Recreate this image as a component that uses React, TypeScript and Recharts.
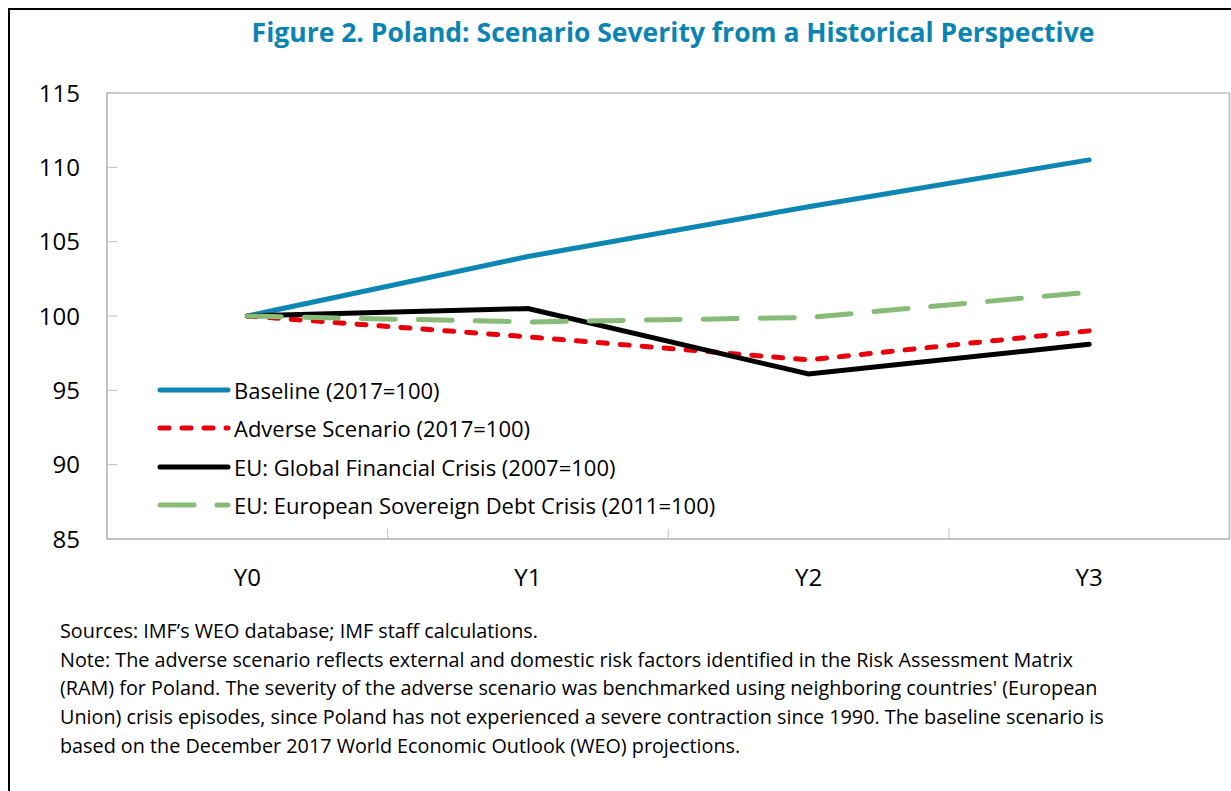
import React from 'react';
import { LineChart, Line, XAxis, YAxis, ReferenceArea, Legend } from 'recharts';

const categories = ['Y0', 'Y1', 'Y2', 'Y3'];
const baseline = [100, 104.0, 107.35, 110.5];
const adverse = [100, 98.6, 97.05, 99.0];
const globalCrisis = [100, 100.5, 96.1, 98.1];
const sovereignCrisis = [100, 99.6, 99.9, 101.6];
const yTicks = [85, 90, 95, 100, 105, 110, 115];

const series = [
  { key: 'baseline', name: 'Baseline (2017=100)', color: '#0E86B4', dash: undefined, values: baseline },
  { key: 'adverse', name: 'Adverse Scenario (2017=100)', color: '#E8000B', dash: '9 13', values: adverse },
  { key: 'gfc', name: 'EU: Global Financial Crisis (2007=100)', color: '#000000', dash: undefined, values: globalCrisis },
  { key: 'esdc', name: 'EU: European Sovereign Debt Crisis (2011=100)', color: '#86BC76', dash: '34 23', values: sovereignCrisis },
];

const chartData = categories.map((cat, i) => {
  const row: Record<string, string | number> = { cat };
  series.forEach(s => { row[s.key] = s.values[i]; });
  return row;
});

const FONT = '"Open Sans", "Noto Sans", sans-serif';
const GRID = '#BFBFBF';
const X_TICK_GAP = 30;

// category label plus a short tick mark on the left edge of each band (except the first)
const CategoryTick = (props: any) => {
  const { x, y, payload, index } = props;
  const half = payload && typeof payload.offset === 'number' ? payload.offset : 0;
  const axisY = y - X_TICK_GAP;
  return (
    <g>
      {index > 0 && half > 0 && (
        <line x1={x - half} x2={x - half} y1={axisY - 10} y2={axisY} stroke={GRID} strokeWidth={1} />
      )}
      <text x={x} y={y} dy="0.71em" textAnchor="middle" fill="#000" fontSize={24} fontFamily={FONT}>
        {payload.value}
      </text>
    </g>
  );
};

const LegendBox = () => (
  <div style={{ fontFamily: FONT, fontSize: 22, color: '#000' }}>
    {series.map(s => (
      <div key={s.key} style={{ display: 'flex', alignItems: 'center', height: 38.3 }}>
        <svg width={77} height={12} style={{ display: 'block' }}>
          <line x1={3} y1={6} x2={71} y2={6} stroke={s.color} strokeWidth={5}
            strokeDasharray={s.dash} strokeLinecap="round" />
        </svg>
        <span style={{ whiteSpace: 'nowrap' }}>{s.name}</span>
      </div>
    ))}
  </div>
);

const notes = [
  'Sources: IMF\u2019s WEO database; IMF staff calculations.',
  'Note: The adverse scenario reflects external and domestic risk factors identified in the Risk Assessment Matrix',
  "(RAM) for Poland. The severity of the adverse scenario was benchmarked using neighboring countries' (European",
  'Union) crisis episodes, since Poland has not experienced a severe contraction since 1990. The baseline scenario is',
  'based on the December 2017 World Economic Outlook (WEO) projections.',
];

export default function App() {
  return (
    <div style={{
      position: 'fixed', left: 8, top: 8, width: 1223, height: 783, boxSizing: 'border-box',
      borderTop: '2px solid #000', borderLeft: '2px solid #000', background: '#fff', overflow: 'hidden',
    }}>
      <div style={{
        position: 'absolute', left: 663, top: 4, transform: 'translateX(-50%)', whiteSpace: 'nowrap',
        fontFamily: FONT, fontWeight: 700, fontSize: 26.5, color: '#0A84B2',
      }}>
        Figure 2. Poland: Scenario Severity from a Historical Perspective
      </div>
      <div style={{ position: 'absolute', left: 0, top: 0 }}>
        <LineChart width={1221} height={600} data={chartData}
          margin={{ top: 83, right: 0, left: 0, bottom: 0 }}
          style={{ fontFamily: FONT }}>
          <XAxis xAxisId="cat" dataKey="cat" scale="band" height={71}
            axisLine={{ stroke: GRID, strokeWidth: 1.5 }}
            tickLine={false} tickSize={0} tickMargin={X_TICK_GAP}
            tick={<CategoryTick />} />
          <YAxis domain={[85, 115]} ticks={yTicks} width={97} allowDataOverflow
            axisLine={{ stroke: GRID, strokeWidth: 1.5 }} tickSize={-10} tickMargin={37}
            tickLine={{ stroke: GRID, strokeWidth: 1 }}
            tick={{ fill: '#000', fontSize: 24 }} />
          <YAxis yAxisId="frame" orientation="right" domain={[85, 115]} allowDataOverflow
            width={1.5} tick={false} tickLine={false}
            axisLine={{ stroke: GRID, strokeWidth: 1.5 }} />
          <ReferenceArea xAxisId="cat" y1={85} y2={115} fill="none" stroke={GRID} strokeWidth={1.5}
            ifOverflow="visible" />
          {series.map(s => (
            <Line key={s.key} xAxisId="cat" dataKey={s.key} name={s.name} stroke={s.color}
              strokeWidth={5} strokeDasharray={s.dash} strokeLinecap="round"
              dot={false} activeDot={false} isAnimationActive={false} />
          ))}
          <Legend layout="vertical" align="center" verticalAlign="middle"
            wrapperStyle={{ left: 147, top: 361, width: 640, height: 160 }}
            content={() => <LegendBox />} />
        </LineChart>
      </div>
      <div style={{
        position: 'absolute', left: 50, top: 607, fontFamily: FONT, fontSize: 19.8,
        lineHeight: '28.7px', color: '#000',
      }}>
        {notes.map((n, i) => (
          <div key={i} style={{ whiteSpace: 'nowrap' }}>{n}</div>
        ))}
      </div>
    </div>
  );
}
